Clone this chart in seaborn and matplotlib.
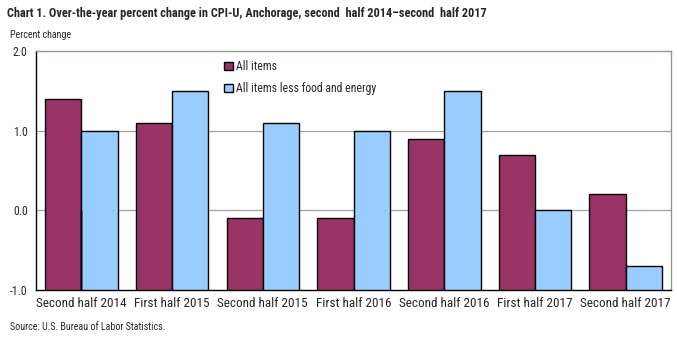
import matplotlib
matplotlib.use("Agg")
import matplotlib.pyplot as plt
import seaborn as sns
import pandas as pd

periods = ["Second half 2014", "First half 2015", "Second half 2015", "First half 2016",
           "Second half 2016", "First half 2017", "Second half 2017"]
all_items = [1.4, 1.1, -0.1, -0.1, 0.9, 0.7, 0.2]
core_items = [1.0, 1.5, 1.1, 1.0, 1.5, 0.0, -0.7]
series_names = ["All items", "All items less food and energy"]
yticks = [-1.0, 0.0, 1.0, 2.0]
baseline = -1.0

df = pd.DataFrame({
    "period": periods * 2,
    "value": all_items + core_items,
    "series": [series_names[0]] * len(periods) + [series_names[1]] * len(periods),
})

sns.set_theme(style="white")
plt.rcParams["font.family"] = ["Roboto Condensed", "Liberation Sans", "DejaVu Sans"]

fig = plt.figure(figsize=(6.77, 3.37), dpi=100)
ax = fig.add_axes([36 / 677, 1 - 290 / 337, (671 - 36) / 677, (290 - 51) / 337])

sns.barplot(data=df, x="period", y="value", hue="series", order=periods,
            hue_order=series_names, palette=["#993366", "#99CCFF"],
            width=0.8, edgecolor="black", linewidth=1.0, saturation=1, ax=ax, zorder=3)

# Bars in the reference rise from the bottom of the value axis (-1.0)
for bar in ax.patches:
    top = bar.get_y() + bar.get_height()
    bar.set_y(baseline)
    bar.set_height(top - baseline)

ax.set_ylim(-1, 2)
ax.set_yticks(yticks)
ax.set_yticklabels([f"{v:.1f}" for v in yticks], fontsize=8.5)
ax.tick_params(axis="x", labelsize=9.5, length=0, pad=5)
ax.tick_params(axis="y", length=0, pad=6)
ax.set_xlabel("")
ax.set_ylabel("")
for y in [0.0, 1.0]:
    ax.axhline(y, color="#a0a0a0", linewidth=0.9, zorder=1)
for s in ["top", "right"]:
    ax.spines[s].set_color("#8a9a8a")
    ax.spines[s].set_linewidth(1.0)
for s in ["left", "bottom"]:
    ax.spines[s].set_color("black")
    ax.spines[s].set_linewidth(1.0)

ax.legend(loc="upper left", bbox_to_anchor=(0.28, 1.005), frameon=False,
          fontsize=8.5, handlelength=0.7, handleheight=0.7, labelspacing=0.75,
          handletextpad=0.3)

fig.text(7 / 677, 1 - 14 / 337,
         "Chart 1. Over-the-year percent change in CPI-U, Anchorage, second  half 2014\u2013second  half 2017",
         fontsize=8.8, fontweight="bold", va="center", ha="left")
fig.text(10 / 677, 1 - 35 / 337, "Percent change", fontsize=7.2, va="center", ha="left")
fig.text(10 / 677, 1 - 327 / 337, "Source: U.S. Bureau of Labor Statistics.", fontsize=7.2, va="center", ha="left")

fig.savefig("out.png", dpi=100)
